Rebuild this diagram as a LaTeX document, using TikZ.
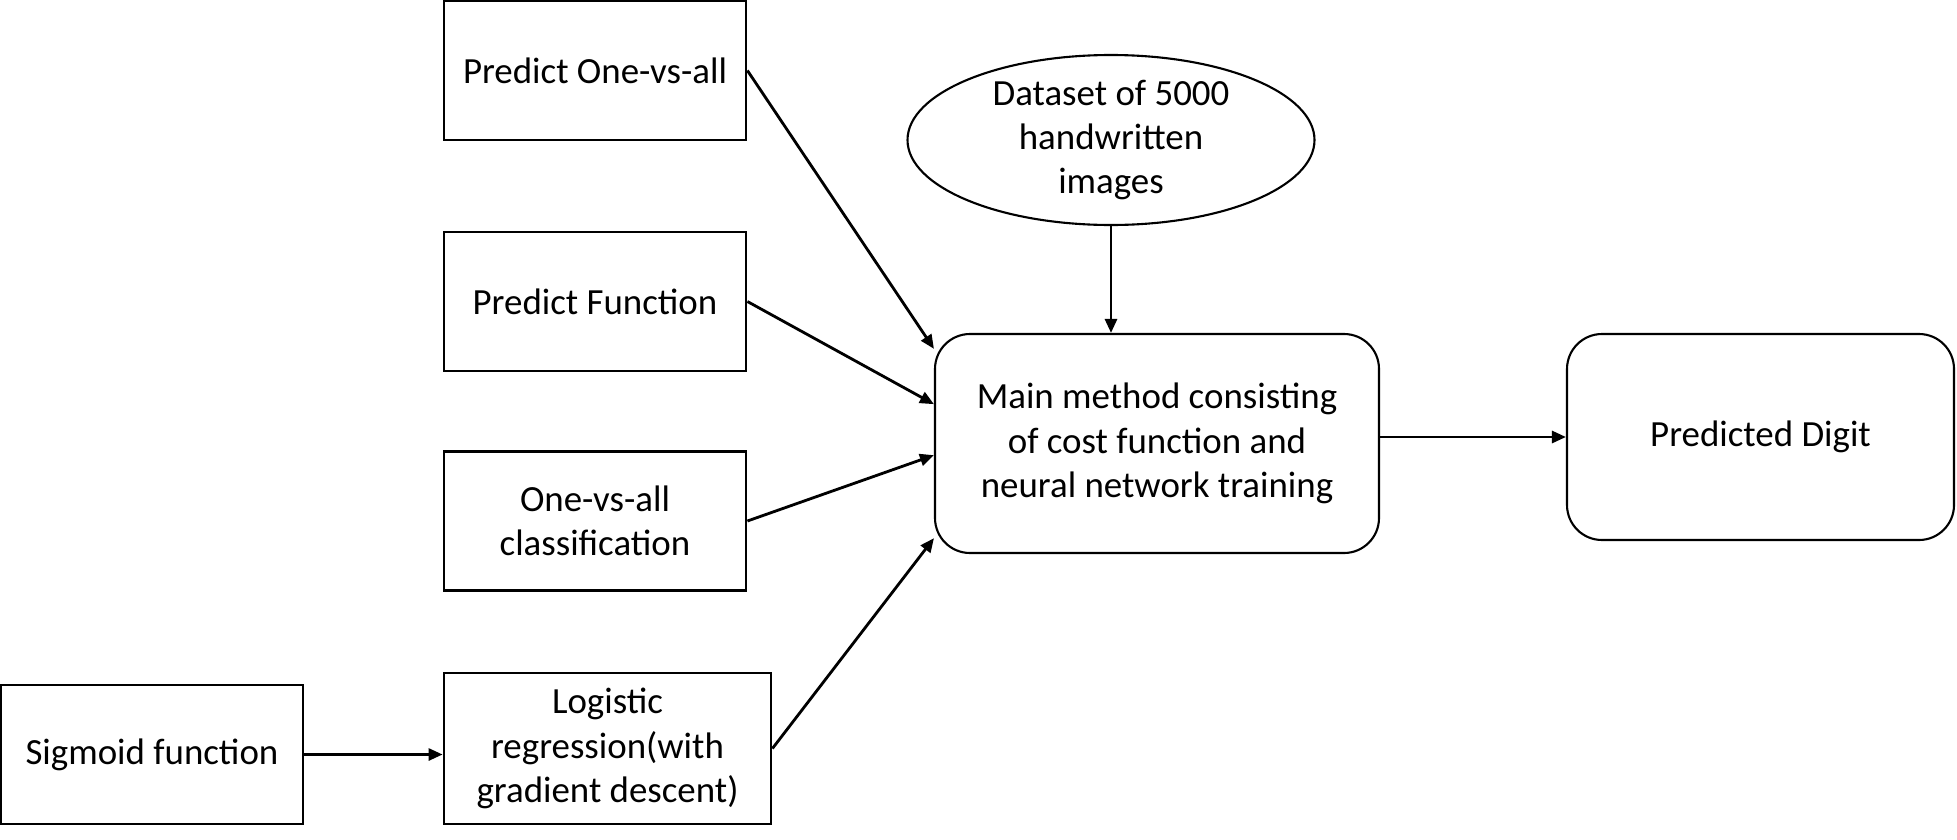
\documentclass[tikz,border=0pt]{standalone}
\usepackage{fontspec}
\setmainfont{Carlito}
\usetikzlibrary{shapes.geometric,arrows.meta}

\tikzset{
    box/.style={draw, line width=0.8pt, align=center, inner sep=0pt,
        minimum width=3.02cm, minimum height=1.39cm},
    rbox/.style={draw, line width=0.6pt, rounded corners=0.35cm, align=center, inner sep=0pt},
    blob/.style={draw, ellipse, line width=0.6pt, align=center, inner sep=0pt,
        minimum width=4.07cm, minimum height=1.65cm},
    arr/.style={line width=0.8pt, -{Triangle[length=1.4mm, width=1.2mm]}}
}

\begin{document}
\begin{tikzpicture}[font=\fontsize{10.5}{12.6}\selectfont]
        \useasboundingbox (0,0) rectangle (19.57,8.39);
        \node [box] (pova) at (5.95, 7.685) {Predict One-vs-all};
        \node [box] (pf) at (5.95, 5.375) {Predict Function};
        \node [box] (ova) at (5.95, 3.18) {One-vs-all\\classification};
        \node [box, minimum width=3.27cm, minimum height=1.51cm] (logr) at (6.075, 0.905) {Logistic\\regression(with\\gradient descent)};
        \node [box] (sig) at (1.52, 0.845) {Sigmoid function};
        \node [blob] (data) at (11.11, 6.99) {Dataset of 5000\\handwritten\\images};
        \node [rbox, minimum width=4.44cm, minimum height=2.19cm] (main) at (11.57, 3.955) {Main method consisting\\of cost function and\\neural network training};
        \node [rbox, minimum width=3.87cm, minimum height=2.06cm] (digit) at (17.605, 4.02) {Predicted Digit};
        \coordinate (top) at (data.south |- main.north);
        \draw [arr] (pova.east) to (main.157);
        \draw [arr] (pf.east) to (main.170);
        \draw [arr] (ova.east) to (main.183);
        \draw [arr] (logr.east) to (main.203);
        \draw [arr] (data.south) to (top);
        \draw [arr] (main.east |- digit.west) to (digit.west);
        \draw [arr] (sig.east) to (sig.east -| logr.west);
    \end{tikzpicture}
\end{document}
